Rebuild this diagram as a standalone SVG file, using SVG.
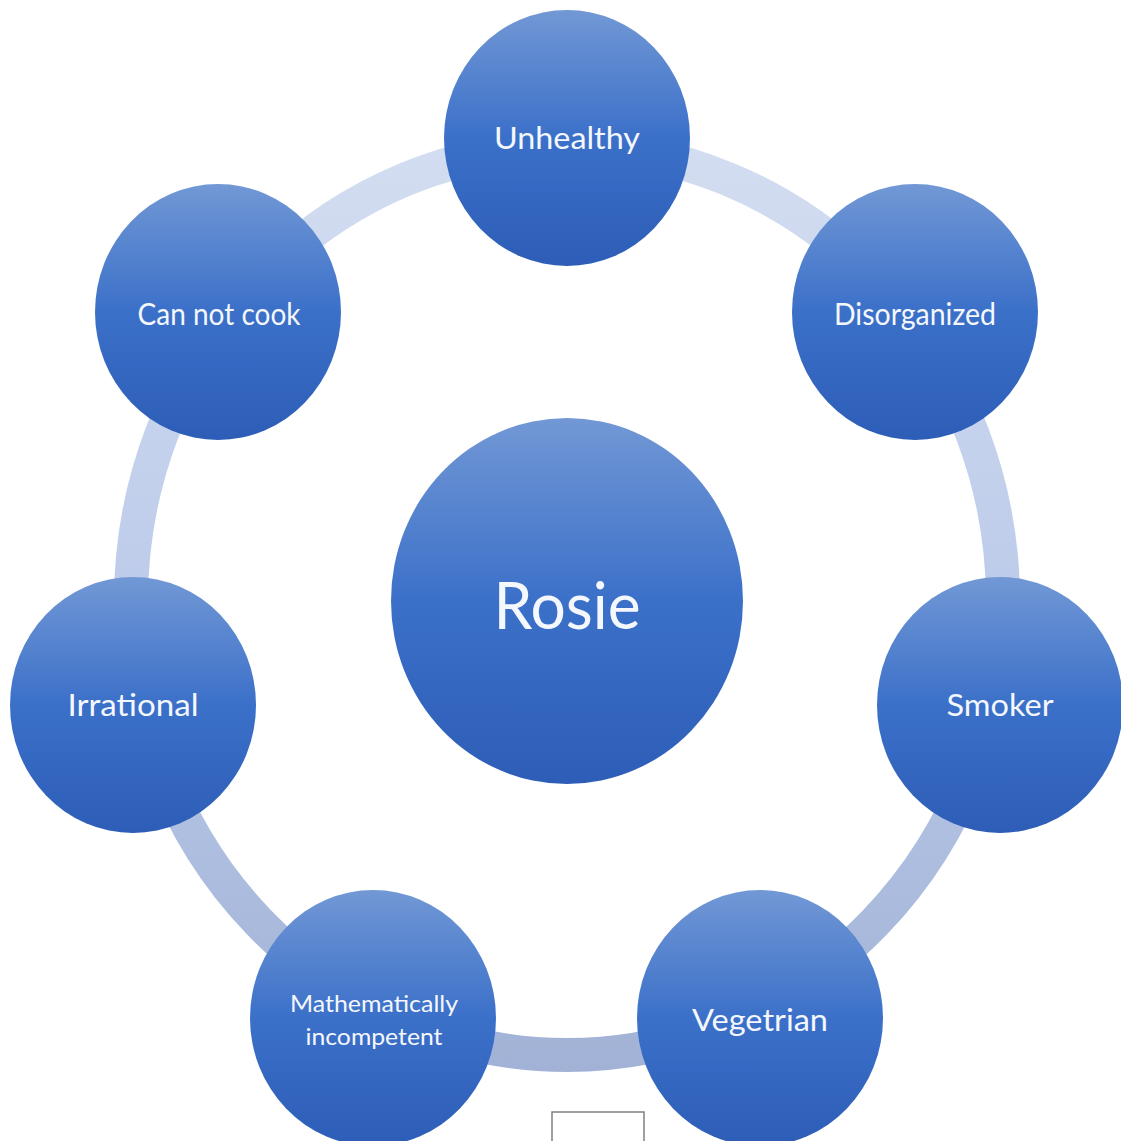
<svg xmlns="http://www.w3.org/2000/svg" width="1121" height="1141" viewBox="0 0 1121 1141">
<defs>
<linearGradient id="node" x1="0" y1="0" x2="0" y2="1">
<stop offset="0" stop-color="#7298d5"/>
<stop offset="0.5" stop-color="#3b70c9"/>
<stop offset="1" stop-color="#2d5db7"/>
</linearGradient>
<linearGradient id="ring" gradientUnits="userSpaceOnUse" x1="0" y1="150" x2="0" y2="1070">
<stop offset="0" stop-color="#d3ddf1"/>
<stop offset="0.5" stop-color="#bccbea"/>
<stop offset="1" stop-color="#a1b2d6"/>
</linearGradient>
</defs>
<style>
.n{fill:url(#node)}
.t{fill:#f4f7fc;font-family:Lato,"Liberation Sans",sans-serif;font-size:30px;text-anchor:middle}
.s{font-size:24px}
</style>
<rect width="1121" height="1141" fill="#ffffff"/>
<g id="connectors">
<ellipse cx="567" cy="601" rx="436" ry="454" fill="none" stroke="url(#ring)" stroke-width="34"/>
</g>
<g id="node-rosie"><ellipse class="n" cx="567" cy="601" rx="176" ry="183"/><text class="t" x="567" y="629" style="font-size:66px" textLength="147" lengthAdjust="spacingAndGlyphs">Rosie</text></g>
<g id="node-unhealthy"><ellipse class="n" cx="567" cy="138" rx="123" ry="128"/><text class="t" x="567" y="149" textLength="146" lengthAdjust="spacingAndGlyphs">Unhealthy</text></g>
<g id="node-disorganized"><ellipse class="n" cx="915" cy="312" rx="123" ry="128"/><text class="t" x="915" y="325" textLength="162" lengthAdjust="spacingAndGlyphs">Disorganized</text></g>
<g id="node-smoker"><ellipse class="n" cx="1000" cy="705" rx="123" ry="128"/><text class="t" x="1000" y="716" textLength="107" lengthAdjust="spacingAndGlyphs">Smoker</text></g>
<g id="node-vegetrian"><ellipse class="n" cx="760" cy="1018" rx="123" ry="128"/><text class="t" x="760" y="1031" textLength="136" lengthAdjust="spacingAndGlyphs">Vegetrian</text></g>
<g id="node-mathematically"><ellipse class="n" cx="373" cy="1018" rx="123" ry="128"/><text class="t s" x="374" y="1012" textLength="168" lengthAdjust="spacingAndGlyphs">Mathematically</text><text class="t s" x="374" y="1045" textLength="137" lengthAdjust="spacingAndGlyphs">incompetent</text></g>
<g id="node-irrational"><ellipse class="n" cx="133" cy="705" rx="123" ry="128"/><text class="t" x="133" y="716" textLength="131" lengthAdjust="spacingAndGlyphs">Irrational</text></g>
<g id="node-cannotcook"><ellipse class="n" cx="218" cy="312" rx="123" ry="128"/><text class="t" x="219" y="325" textLength="163" lengthAdjust="spacingAndGlyphs">Can not cook</text></g>
<rect x="552" y="1112" width="92" height="40" fill="#ffffff" stroke="#808080" stroke-width="1.5"/>
</svg>
